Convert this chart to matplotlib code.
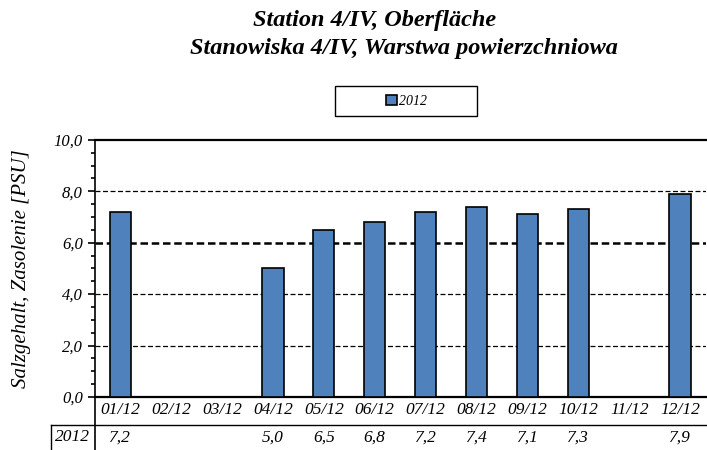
import numpy as np
import matplotlib.pyplot as plt
from matplotlib.lines import Line2D
from matplotlib.patches import Rectangle

months = ['01/12', '02/12', '03/12', '04/12', '05/12', '06/12',
          '07/12', '08/12', '09/12', '10/12', '11/12', '12/12']
sal2012 = [7.2, np.nan, np.nan, 5.0, 6.5, 6.8, 7.2, 7.4, 7.1, 7.3, np.nan, 7.9]
series_name = '2012'

plt.rcParams['font.family'] = ['Liberation Serif', 'DejaVu Serif']

fig = plt.figure(figsize=(7.07, 4.5), dpi=100)
ax = fig.add_axes([0.134, 0.118, 0.864, 0.571])

x = np.arange(len(months))
ax.bar(x, sal2012, width=0.42, color='#4f81bd', edgecolor='black', linewidth=1.2,
       zorder=3, label=series_name)

ax.set_xlim(-0.5, len(months) - 0.5)
ax.set_ylim(0, 10)
ax.set_yticks(np.arange(0, 10.1, 2))
ax.set_yticklabels([f'{v:.1f}'.replace('.', ',') for v in np.arange(0, 10.1, 2)],
                   fontstyle='italic', fontsize=12)
ax.set_yticks(np.arange(0, 10.1, 0.5), minor=True)
ax.tick_params(axis='y', which='major', length=5, width=1.2)
ax.tick_params(axis='y', which='minor', length=3, width=1.2)
ax.set_xticks(x)
ax.set_xticklabels(months, fontstyle='italic', fontsize=12.5)
ax.tick_params(axis='x', length=0, pad=4)

for yv in [2, 4, 8]:
    ax.axhline(yv, color='black', linestyle=(0, (4, 2)), linewidth=0.9, zorder=1)
ax.axhline(6, color='black', linestyle=(0, (3, 1.5)), linewidth=1.8, zorder=1)

ax.spines['right'].set_visible(False)
ax.spines['top'].set_linewidth(1.6)
ax.spines['bottom'].set_linewidth(1.6)
ax.spines['left'].set_linewidth(1.2)

ax.set_ylabel('Salzgehalt, Zasolenie [PSU]', fontstyle='italic', fontsize=15, labelpad=16)

# data table below the axis
trans = ax.get_xaxis_transform()
for xi, v in zip(x, sal2012):
    if not np.isnan(v):
        ax.text(xi, -0.158, f'{v:.1f}'.replace('.', ','), transform=trans,
                ha='center', va='center', fontstyle='italic', fontsize=12.5)
ax.text(-0.94, -0.158, series_name, transform=trans, ha='center', va='center',
        fontstyle='italic', fontsize=12.5, clip_on=False)
ax.add_line(Line2D([-0.5, -0.5], [0, -0.3], transform=trans, color='black',
                   linewidth=1.2, clip_on=False))
ax.add_line(Line2D([-1.35, len(months) - 0.5], [-0.109, -0.109], transform=trans,
                   color='black', linewidth=1.0, clip_on=False))
ax.add_line(Line2D([-1.35, -1.35], [-0.109, -0.3], transform=trans, color='black',
                   linewidth=1.0, clip_on=False))

fig.text(0.530, 0.955, 'Station 4/IV, Oberfläche', ha='center', va='center',
         fontsize=17.5, fontweight='bold', fontstyle='italic')
fig.text(0.571, 0.893, 'Stanowiska 4/IV, Warstwa powierzchniowa', ha='center', va='center',
         fontsize=17.5, fontweight='bold', fontstyle='italic')

# legend box
fig.add_artist(Rectangle((335 / 707, 1 - 116 / 450), 142 / 707, 30 / 450,
                         transform=fig.transFigure, facecolor='white',
                         edgecolor='black', linewidth=1.0))
leg = fig.legend(loc='center', bbox_to_anchor=(0.575, 0.775), frameon=False,
                 prop={'style': 'italic', 'size': 10},
                 handlelength=0.8, handleheight=0.8, handletextpad=0.2)

fig.savefig('out.png', dpi=100)
